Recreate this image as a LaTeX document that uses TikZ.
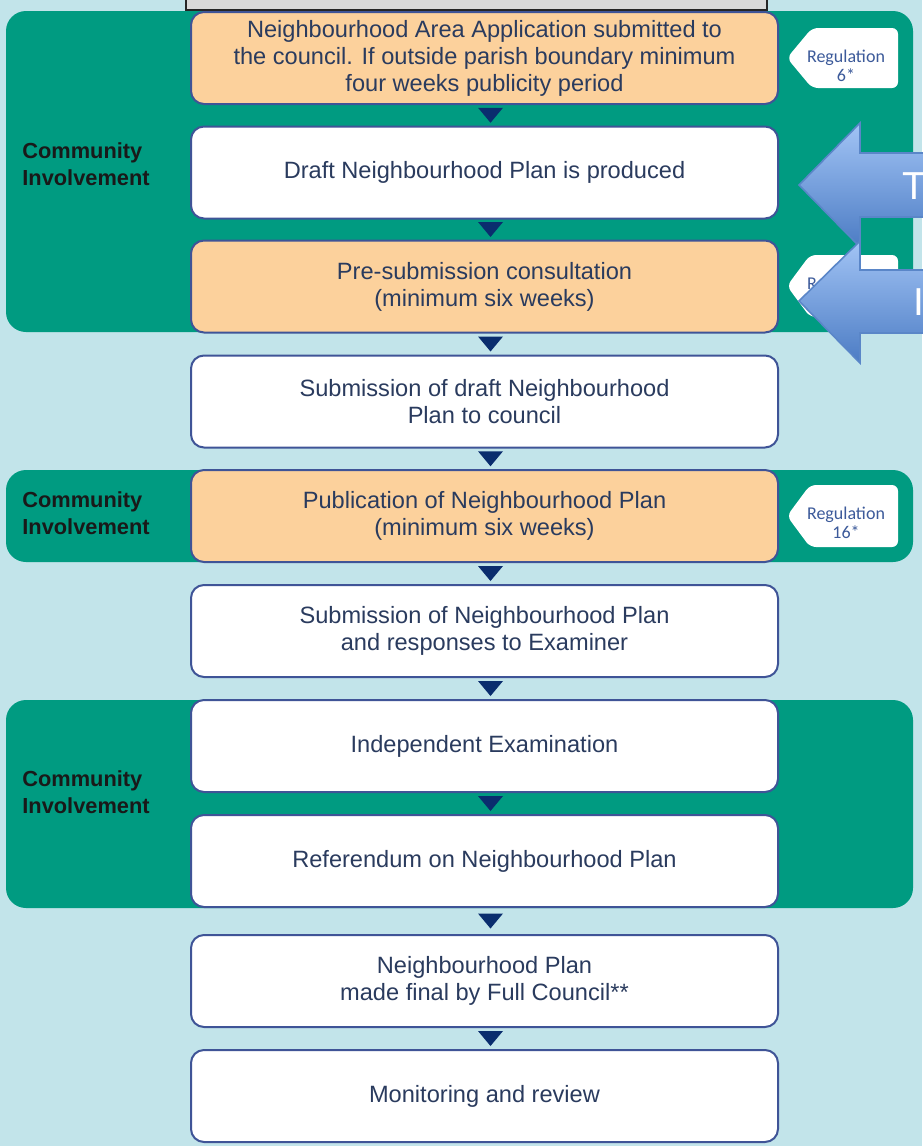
\documentclass[tikz,border=0pt]{standalone}
\usepackage{fontspec}
\setmainfont{Liberation Sans}
\newfontfamily\tagfont{Carlito}
\usetikzlibrary{calc}
\definecolor{skyback}{HTML}{C2E4EA}
\definecolor{teal}{HTML}{009B81}
\definecolor{peach}{HTML}{FCD19C}
\definecolor{stageline}{HTML}{3F5497}
\definecolor{stagetext}{HTML}{2A3B5E}
\definecolor{navymark}{HTML}{0A2D6E}
\definecolor{tagtext}{HTML}{3C5A9A}
\definecolor{arrowtop}{HTML}{A2C4F5}
\definecolor{arrowbot}{HTML}{4C7CC4}
\definecolor{arrowedge}{HTML}{5A86C8}
\begin{document}
\begin{tikzpicture}[x=0.5pt,y=-0.5pt,
	stage/.style={draw=stageline, line width=1pt, rounded corners=6.5pt, minimum width=293.5pt, minimum height=46pt, inner sep=2pt, align=center, text=stagetext, font=\fontsize{11.8}{13.5}\selectfont},
	plainstage/.style={stage, fill=white},
	peachstage/.style={stage, fill=peach},
	band/.style={fill=teal, rounded corners=10pt},
	involve/.style={anchor=west, inner sep=0pt, align=left, text=black!90, font=\bfseries\fontsize{10.9}{13.5}\selectfont},
	regtag/.style={fill=white, rounded corners=3pt},
	regtext/.style={align=center, text=tagtext, font=\tagfont\fontsize{9}{9.5}\selectfont},
	bigarrow/.style={top color=arrowtop, bottom color=arrowbot, draw=arrowedge, line width=0.8pt},
	arrowtext/.style={anchor=west, inner sep=0pt, text=white, font=\fontsize{19.5}{20}\selectfont}]
	\useasboundingbox (0,0) rectangle (922,1146);
	\fill [skyback] (0,0) rectangle (922,1146);
	\filldraw [fill=black!15, draw=black!85, line width=1pt] (186,-12) rectangle (767,10);
	\fill [band] (6,11) rectangle (913,332);
	\fill [band] (6,470) rectangle (913,562);
	\fill [band] (6,700) rectangle (913,908);
	\node [involve] (ci1) at (22,164) {Community\\Involvement};
	\node [involve] (ci2) at (22,513) {Community\\Involvement};
	\node [involve] (ci3) at (22,792) {Community\\Involvement};
	\node [peachstage] (b1) at (484.5,58) {Neighbourhood Area Application submitted to\\the council. If outside parish boundary minimum\\four weeks publicity period};
	\node [plainstage] (b2) at (484.5,172.5) {Draft Neighbourhood Plan is produced};
	\node [peachstage] (b3) at (484.5,286.5) {Pre-submission consultation\\(minimum six weeks)};
	\node [plainstage] (b4) at (484.5,401.5) {Submission of draft Neighbourhood\\Plan to council};
	\node [peachstage] (b5) at (484.5,516) {Publication of Neighbourhood Plan\\(minimum six weeks)};
	\node [plainstage] (b6) at (484.5,631) {Submission of Neighbourhood Plan\\and responses to Examiner};
	\node [plainstage] (b7) at (484.5,746) {Independent Examination};
	\node [plainstage] (b8) at (484.5,861) {Referendum on Neighbourhood Plan};
	\node [plainstage] (b9) at (484.5,981) {Neighbourhood Plan\\made final by Full Council**};
	\node [plainstage] (b10) at (484.5,1096) {Monitoring and review};
	\foreach \a/\b in {b1/b2,b2/b3,b3/b4,b4/b5,b5/b6,b6/b7,b7/b8,b8/b9,b9/b10}
		\fill [navymark] ($(\a.south)!0.5!(\b.north)+(-6.5,-7.5)$) -- ++(25,0) -- ++(-12.5,15) -- cycle;
	\fill [regtag] (787,58) -- (812,28) -- (898,28) -- (898,88) -- (812,88) -- cycle;
	\node [regtext] (reg6) at (846,66) {Regulation\\6*};
	\fill [regtag] (787,286) -- (810,255) -- (898,255) -- (898,317) -- (810,317) -- cycle;
	\node [regtext] (reg14) at (846,293) {Regulation\\14*};
	\fill [regtag] (787,516) -- (810,485) -- (898,485) -- (898,547) -- (810,547) -- cycle;
	\node [regtext] (reg16) at (846,523) {Regulation\\16*};
	\shadedraw [bigarrow] (799,185) -- (860,123) -- (860,153) -- (935,153) -- (935,217) -- (860,217) -- (860,247) -- cycle;
	\node [arrowtext] (arr1) at (902,186) {T};
	\shadedraw [bigarrow] (799,301) -- (860,241) -- (860,270) -- (935,270) -- (935,333) -- (860,333) -- (860,363) -- cycle;
	\node [arrowtext] (arr2) at (913,302) {I};
\end{tikzpicture}
\end{document}
